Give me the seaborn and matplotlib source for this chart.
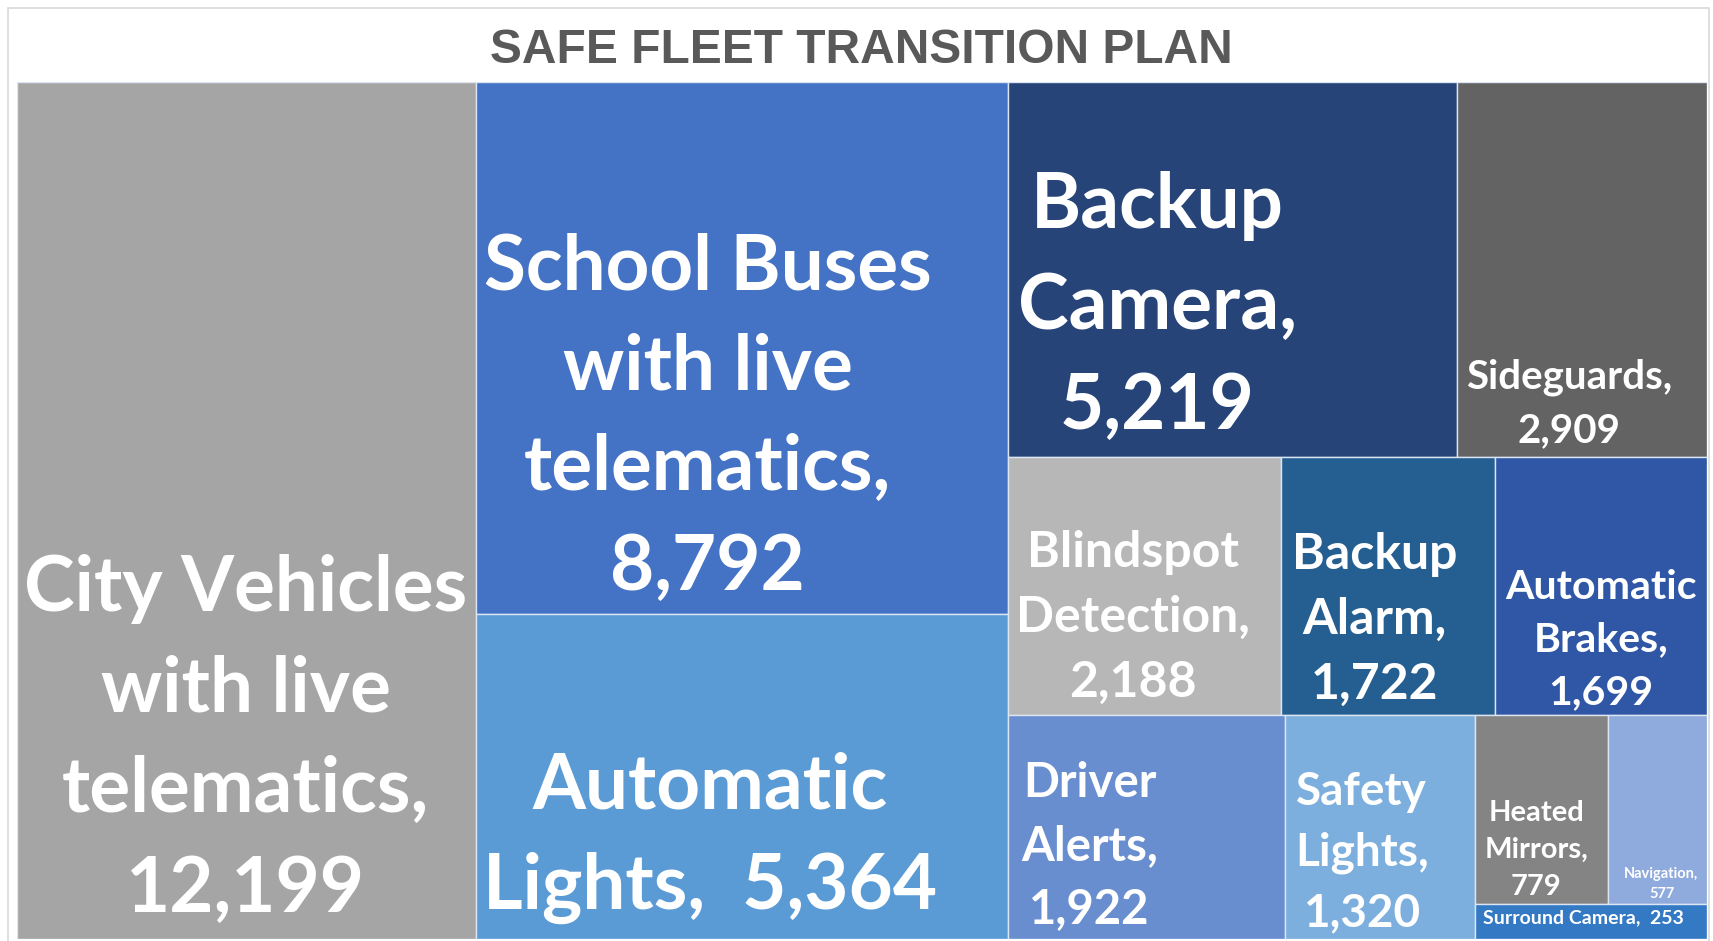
import matplotlib
matplotlib.use("Agg")
import matplotlib.pyplot as plt
from matplotlib.patches import Rectangle
from matplotlib.font_manager import FontProperties
import seaborn as sns
import pandas as pd

# ---------------- data ----------------
title = "SAFE FLEET TRANSITION PLAN"
categories = [
    "City Vehicles with live telematics",
    "School Buses with live telematics",
    "Automatic Lights",
    "Backup Camera",
    "Sideguards",
    "Blindspot Detection",
    "Backup Alarm",
    "Automatic Brakes",
    "Driver Alerts",
    "Safety Lights",
    "Heated Mirrors",
    "Navigation",
    "Surround Camera",
]
values = [12199, 8792, 5364, 5219, 2909, 2188, 1722, 1699, 1922, 1320, 779, 577, 253]
label_templates = [
    "City Vehicles\nwith live\ntelematics,\n{v}",
    "School Buses\nwith live\ntelematics,\n{v}",
    "Automatic\nLights,  {v}",
    "Backup\nCamera,\n{v}",
    "Sideguards,\n{v}",
    "Blindspot\nDetection,\n{v}",
    "Backup\nAlarm,\n{v}",
    "Automatic\nBrakes,\n{v}",
    "Driver\nAlerts,\n{v}",
    "Safety\nLights,\n{v}",
    "Heated\nMirrors,\n{v}",
    "Navigation,\n{v}",
    "Surround Camera,  {v}",
]
# treemap nesting (indices into the lists above): 'h' = side by side, 'v' = stacked
layout = ("h", [0,
                ("v", [1, 2]),
                ("v", [("h", [3, 4]),
                       ("h", [5, 6, 7]),
                       ("h", [8, 9, ("v", [("h", [10, 11]), 12])])])])

# ---------------- style ----------------
colors = ["#A5A5A5", "#4472C4", "#5B9BD5", "#264478", "#636363", "#B7B7B7",
          "#255E91", "#3057A6", "#698ED0", "#7CAFDD", "#848484", "#8FAADC", "#3379C3"]
font_pt = [55, 55, 55, 55, 29, 36, 36, 29.5, 34, 33, 21, 10.5, 14]
left_pad_px = [7, 8, 7, 10, 9, 8, 11, 10, 13, 10, 9, 16, 8]
base_pad_px = [27, 24, 28, 28, 15, 19, 17, 11, 16, 13, 9, 6, 16]
line_sp = 1.53

W_PX, H_PX = 1713, 941
sns.set_theme(style="white")
plt.rcParams["font.family"] = ["Lato", "DejaVu Sans"]

fig = plt.figure(figsize=(W_PX / 100, H_PX / 100), dpi=100)
fig.patch.set_facecolor("white")

# outer frame
fig.patches.append(Rectangle((7.5 / W_PX, -0.01), (1709 - 7.5) / W_PX, 1.01 - 7.5 / H_PX,
                             transform=fig.transFigure, fill=False,
                             edgecolor="#D9D9D9", linewidth=1.2, zorder=0))

left, right, top, bottom = 17, 1707, 82, 939
ax = fig.add_axes([left / W_PX, (H_PX - bottom) / H_PX,
                   (right - left) / W_PX, (bottom - top) / H_PX])
ax.set_xlim(0, 1)
ax.set_ylim(1, 0)
ax.axis("off")


def total(node):
    if isinstance(node, int):
        return values[node]
    return sum(total(c) for c in node[1])


rects = {}


def place(node, x, y, w, h):
    if isinstance(node, int):
        rects[node] = (x, y, w, h)
        return
    d, kids = node
    t = total(node)
    for k in kids:
        f = total(k) / t
        if d == "h":
            place(k, x, y, w * f, h)
            x += w * f
        else:
            place(k, x, y, w, h * f)
            y += h * f


place(layout, 0.0, 0.0, 1.0, 1.0)

df = pd.DataFrame({
    "category": categories,
    "value": values,
    "x": [rects[i][0] for i in range(len(values))],
    "y": [rects[i][1] for i in range(len(values))],
    "w": [rects[i][2] for i in range(len(values))],
    "h": [rects[i][3] for i in range(len(values))],
})

ax.bar(df["x"], df["h"], width=df["w"], bottom=df["y"], align="edge",
       color=colors, edgecolor="#DCE6F2", linewidth=1.0)

renderer = fig.canvas.get_renderer()
for i, row in df.iterrows():
    fs = font_pt[i]
    fp = FontProperties(family=["Lato", "DejaVu Sans"], weight="bold", size=fs)
    _, _, desc = renderer.get_text_width_height_descent("lp", fp, ismath=False)
    off_pt = (base_pad_px[i] - desc) * 0.72
    txt = label_templates[i].format(v=f"{row['value']:,}")
    ax.annotate(txt, xy=(row["x"], row["y"] + row["h"]),
                xytext=(left_pad_px[i] * 0.72, off_pt), textcoords="offset points",
                ha="left", va="bottom", multialignment="center",
                fontproperties=fp, color="white", linespacing=line_sp)

fig.text(861 / W_PX, 1 - 63 / H_PX, title, ha="center", va="baseline",
         fontsize=34.5, fontweight="bold", color="#595959",
         family=["Liberation Sans", "DejaVu Sans"])

fig.savefig("out.png", dpi=100, facecolor="white")
